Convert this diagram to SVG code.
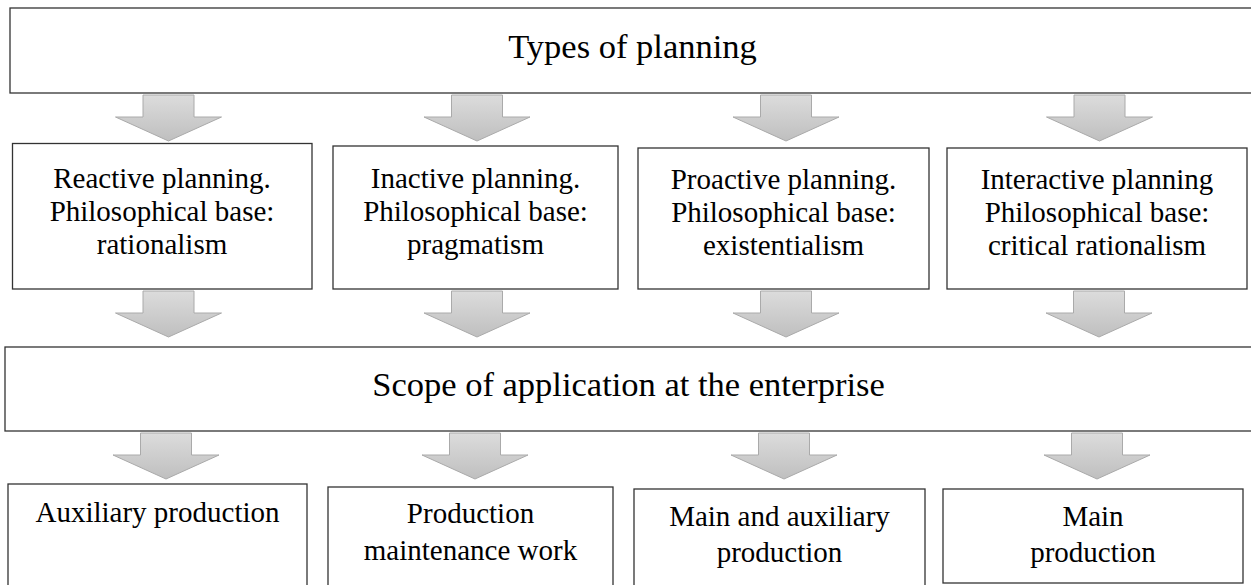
<svg xmlns="http://www.w3.org/2000/svg" width="1251" height="585" viewBox="0 0 1251 585">
<defs>
<linearGradient id="ag" x1="0" y1="0" x2="0" y2="1">
<stop offset="0" stop-color="#dcdcdc"/>
<stop offset="1" stop-color="#bfbfbf"/>
</linearGradient>
<path id="arr" d="M-25.5,0 H25.5 V22 H53 L0,46 L-53,22 H-25.5 Z"/>
</defs>
<style>
.box{fill:#fff;stroke:#333;stroke-width:1.3}
.arrow{fill:url(#ag);stroke:#aaa;stroke-width:1}
text{font-family:'Liberation Serif','Times New Roman',serif;fill:#000;text-anchor:middle}
.big{font-size:34.5px}
.t{font-size:29px}
</style>
<rect width="1251" height="585" fill="#fff"/>
<g id="connectors">
<use href="#arr" class="arrow" x="168.5" y="95"/>
<use href="#arr" class="arrow" x="477" y="95"/>
<use href="#arr" class="arrow" x="786" y="95"/>
<use href="#arr" class="arrow" x="1099.5" y="95"/>
<use href="#arr" class="arrow" x="168.5" y="291"/>
<use href="#arr" class="arrow" x="477" y="291"/>
<use href="#arr" class="arrow" x="786" y="291"/>
<use href="#arr" class="arrow" x="1099" y="291"/>
<use href="#arr" class="arrow" x="166" y="433"/>
<use href="#arr" class="arrow" x="475" y="433"/>
<use href="#arr" class="arrow" x="784" y="433"/>
<use href="#arr" class="arrow" x="1097" y="433"/>
</g>
<g id="types">
<rect class="box" x="10" y="8" width="1250" height="85"/>
<text class="big" x="632.5" y="58">Types of planning</text>
</g>
<g id="reactive">
<rect class="box" x="12.5" y="143.5" width="299.5" height="145.5"/>
<text class="t" x="162" y="188">Reactive planning.</text>
<text class="t" x="162" y="221">Philosophical base:</text>
<text class="t" x="162" y="254">rationalism</text>
</g>
<g id="inactive">
<rect class="box" x="333" y="146" width="285" height="143"/>
<text class="t" x="475.5" y="188">Inactive planning.</text>
<text class="t" x="475.5" y="221">Philosophical base:</text>
<text class="t" x="475.5" y="254">pragmatism</text>
</g>
<g id="proactive">
<rect class="box" x="638" y="148" width="291" height="141"/>
<text class="t" x="783.5" y="189">Proactive planning.</text>
<text class="t" x="783.5" y="222">Philosophical base:</text>
<text class="t" x="783.5" y="255">existentialism</text>
</g>
<g id="interactive">
<rect class="box" x="947" y="148" width="300" height="141"/>
<text class="t" x="1097" y="189">Interactive planning</text>
<text class="t" x="1097" y="222">Philosophical base:</text>
<text class="t" x="1097" y="255">critical rationalism</text>
</g>
<g id="scope">
<rect class="box" x="5" y="347" width="1250" height="84"/>
<text class="big" x="628.5" y="396">Scope of application at the enterprise</text>
</g>
<g id="auxiliary">
<rect class="box" x="8" y="484" width="299" height="110"/>
<text class="t" x="157.5" y="522">Auxiliary production</text>
</g>
<g id="maintenance">
<rect class="box" x="328" y="487" width="285" height="110"/>
<text class="t" x="470.5" y="523">Production</text>
<text class="t" x="470.5" y="560">maintenance work</text>
</g>
<g id="main-aux">
<rect class="box" x="634" y="489" width="291" height="110"/>
<text class="t" x="779.5" y="526">Main and auxiliary</text>
<text class="t" x="779.5" y="562">production</text>
</g>
<g id="main">
<rect class="box" x="943" y="489" width="300" height="94"/>
<text class="t" x="1093" y="526">Main</text>
<text class="t" x="1093" y="562">production</text>
</g>
</svg>
